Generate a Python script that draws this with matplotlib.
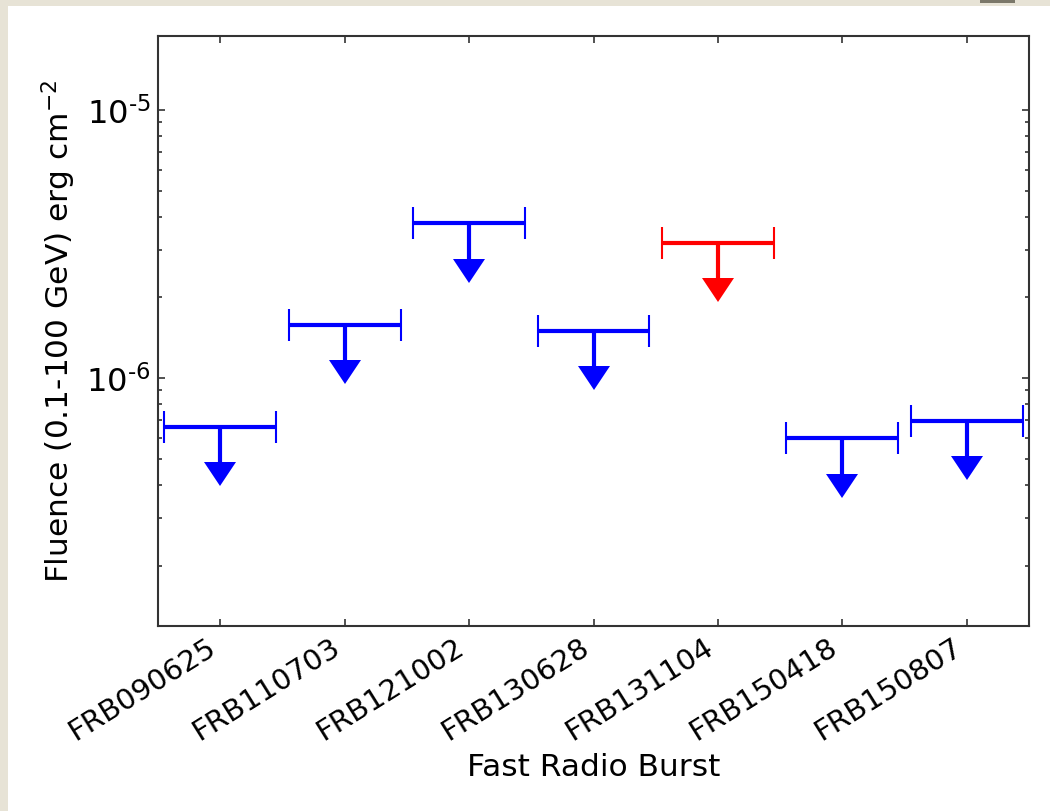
import numpy as np
import matplotlib
matplotlib.use('Agg')
import matplotlib.pyplot as plt
from matplotlib.patches import Rectangle
from matplotlib.ticker import FuncFormatter

# burst names and fluence upper limits (erg cm^-2)
bursts = ['FRB090625', 'FRB110703', 'FRB121002', 'FRB130628',
          'FRB131104', 'FRB150418', 'FRB150807']
fluence_ul = [6.6e-7, 1.58e-6, 3.78e-6, 1.50e-6, 3.2e-6, 5.97e-7, 6.95e-7]
colors = ['blue', 'blue', 'blue', 'blue', 'red', 'blue', 'blue']

plt.rcParams['font.family'] = 'DejaVu Sans'
plt.rcParams['font.size'] = 14
plt.rcParams['xtick.direction'] = 'in'
plt.rcParams['ytick.direction'] = 'in'

fig = plt.figure(figsize=(7, 811 / 150), dpi=150)
fig.patch.set_facecolor('#e7e3d6')
# white page on top of the beige background
fig.patches.append(Rectangle((8 / 1050, 0), 1, 805 / 811, transform=fig.transFigure,
                             facecolor='white', edgecolor='none', zorder=-2))
fig.patches.append(Rectangle((980 / 1050, 808 / 811), 35 / 1050, 3 / 811, transform=fig.transFigure,
                             facecolor='#7b786a', edgecolor='none', zorder=-2))

ax = fig.add_axes([158 / 1050, 185 / 811, 871 / 1050, 590 / 811])

x = np.arange(len(bursts))
y = np.array(fluence_ul)
for i in range(len(bursts)):
    c = colors[i]
    ax.errorbar(x[i], y[i], xerr=0.45, fmt='none', ecolor=c, elinewidth=2,
                capsize=7.5, capthick=1)
    # downward arrow marking the upper limit
    ax.plot([x[i], x[i]], [y[i], y[i] * 0.7], color=c, lw=2, solid_capstyle='butt')
    ax.plot(x[i], y[i] * 0.6, marker=7, markersize=15.5, color=c, mec=c, mew=0)

ax.set_yscale('log')
ax.set_ylim(1.19e-7, 1.89e-5)
ax.set_xlim(-0.5, 6.5)
ax.set_xticks(x)
ax.set_xticklabels(bursts, rotation=32, ha='right')
ax.yaxis.set_major_formatter(FuncFormatter(
    lambda v, pos: '10$^{\\text{%d}}$' % round(np.log10(v))))
ax.tick_params(axis='y', labelsize=15.5)
ax.set_xlabel('Fast Radio Burst', fontsize=15, labelpad=3)
ax.set_ylabel('Fluence (0.1-100 GeV) erg cm$^{-2}$', fontsize=15, labelpad=4)

ax.tick_params(which='both', top=True, right=True, colors='#333333', labelcolor='black')
ax.tick_params(which='major', length=3.5, width=0.8)
ax.tick_params(which='minor', length=2, width=0.8)
for s in ax.spines.values():
    s.set_linewidth(1.0)
    s.set_color('#333333')

fig.savefig('out.png', dpi=150, facecolor=fig.get_facecolor())
